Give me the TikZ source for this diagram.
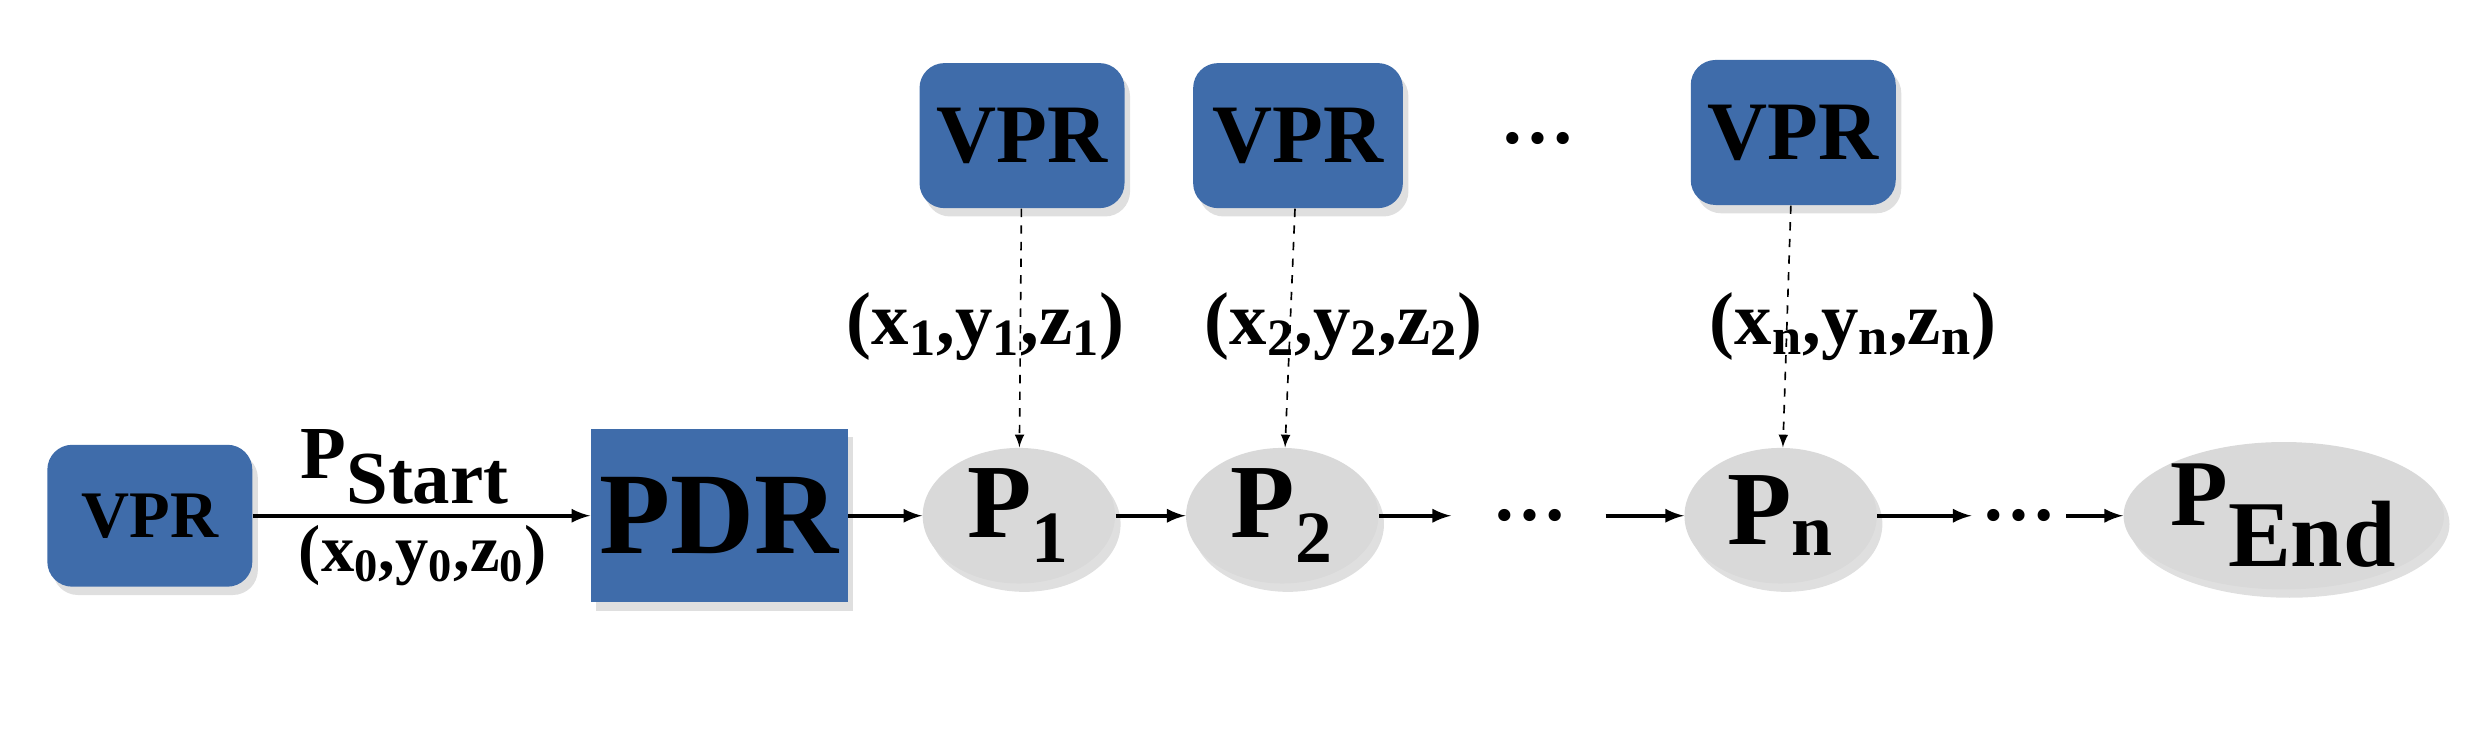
\documentclass[tikz,border=0pt]{standalone}
\usepackage{fontspec}
\setmainfont{Liberation Serif}
\usetikzlibrary{shapes.geometric,shadows}
\definecolor{vprblue}{HTML}{3F6CAA}
\definecolor{pgrey}{HTML}{D9D9D9}
\tikzset{
  vpr/.style={fill=vprblue, rounded corners=9pt, minimum width=2.6cm, minimum height=1.84cm, inner sep=0pt, font=\bfseries\fontsize{30}{30}\selectfont, drop shadow={opacity=0.25,shadow xshift=2pt,shadow yshift=-3pt}},
  pt/.style={ellipse, fill=pgrey, minimum width=2.44cm, minimum height=1.72cm, inner sep=0pt, font=\bfseries\fontsize{38}{38}\selectfont, drop shadow={opacity=0.25,shadow xshift=2pt,shadow yshift=-3pt}},
  lbl/.style={font=\bfseries\fontsize{27}{27}\selectfont, inner sep=0pt},
  flow/.style={-latex, line width=1.3pt},
  link/.style={-latex, dashed, line width=0.6pt},
}
\begin{document}
\begin{tikzpicture}[x=0.02cm,y=-0.02cm]
  \useasboundingbox (0,0) rectangle (1568,462);
  \node [vpr, minimum width=2.6cm, minimum height=1.8cm, font=\bfseries\fontsize{24}{24}\selectfont] (v0) at (95,327) {VPR};
  \node [vpr, rounded corners=0pt, minimum width=3.26cm, minimum height=2.2cm, font=\bfseries\fontsize{42}{42}\selectfont] (pdr) at (456,327) {PDR};
  \node [vpr] (v1) at (648,86) {VPR};
  \node [vpr, minimum width=2.66cm] (v2) at (823,86) {VPR};
  \node [vpr] (vn) at (1137,84) {VPR};
  \node [lbl] (vdots) at (975,88) {\ldots};
  \node [pt] (p1) at (646,327) {P$_{\mathbf 1}$};
  \node [pt] (p2) at (813,327) {P$_{\mathbf 2}$};
  \node [pt] (pn) at (1129,327) {P$_{\mathbf n}$};
  \node [pt, minimum width=3.46cm, minimum height=1.76cm, font=\bfseries\fontsize{34}{34}\selectfont] (pend) at (1448,327) {P$_{\textbf{End}}$};
  \node [lbl] (d1) at (970,327) {\ldots};
  \node [lbl] (d2) at (1280,327) {\ldots};
  \coordinate (d1l) at (920,327);
  \coordinate (d1r) at (1018,327);
  \coordinate (d2l) at (1250,327);
  \coordinate (d2r) at (1310,327);
  \node [lbl] (ps) at (257,296) {P$_{\textbf{Start}}$};
  \node [lbl, font=\bfseries\fontsize{24}{24}\selectfont] (c0) at (268,352) {(x$_{\mathbf 0}$,y$_{\mathbf 0}$,z$_{\mathbf 0}$)};
  \node [lbl] (c1) at (625,207) {(x$_{\mathbf 1}$,y$_{\mathbf 1}$,z$_{\mathbf 1}$)};
  \node [lbl] (c2) at (852,207) {(x$_{\mathbf 2}$,y$_{\mathbf 2}$,z$_{\mathbf 2}$)};
  \node [lbl] (cn) at (1175,207) {(x$_{\mathbf n}$,y$_{\mathbf n}$,z$_{\mathbf n}$)};

  \draw [flow] (v0) -- (pdr);
  \draw [flow] (pdr) -- (p1);
  \draw [flow] (p1) -- (p2);
  \draw [flow] (p2) -- (d1l);
  \draw [flow] (d1r) -- (pn);
  \draw [flow] (pn) -- (d2l);
  \draw [flow] (d2r) -- (pend);
  \draw [link] (v1) -- (p1);
  \draw [link] (v2) -- (p2);
  \draw [link] (vn) -- (pn);
\end{tikzpicture}
\end{document}
